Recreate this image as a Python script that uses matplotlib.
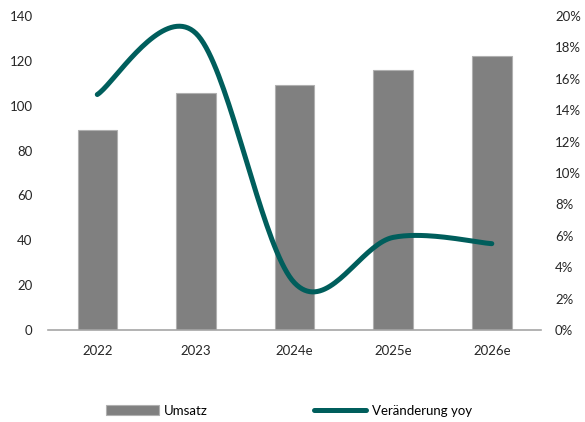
import numpy as np
import matplotlib.pyplot as plt
from matplotlib.ticker import FuncFormatter

plt.rcParams['font.family'] = ['Lato', 'DejaVu Sans']

years = ['2022', '2023', '2024e', '2025e', '2026e']
umsatz = [89, 105.8, 109.2, 115.9, 122.2]
veraenderung = [0.150, 0.189, 0.030, 0.059, 0.055]

bar_color = '#808080'
line_color = '#005e5c'


def smooth(xs, ys, n=40):
    # Bezier smoothing through every point (like Excel's smoothed line)
    xs = np.asarray(xs, float)
    ys = np.asarray(ys, float)
    px = np.concatenate([[xs[0]], xs, [xs[-1]]])
    py = np.concatenate([[ys[0]], ys, [ys[-1]]])
    out_x, out_y = [], []
    t = np.linspace(0, 1, n)
    for i in range(1, len(xs)):
        x0, x3 = px[i], px[i + 1]
        y0, y3 = py[i], py[i + 1]
        x1 = x0 + (px[i + 1] - px[i - 1]) / 6
        y1 = y0 + (py[i + 1] - py[i - 1]) / 6
        x2 = x3 - (px[i + 2] - px[i]) / 6
        y2 = y3 - (py[i + 2] - py[i]) / 6
        bx = (1 - t)**3 * x0 + 3 * (1 - t)**2 * t * x1 + 3 * (1 - t) * t**2 * x2 + t**3 * x3
        by = (1 - t)**3 * y0 + 3 * (1 - t)**2 * t * y1 + 3 * (1 - t) * t**2 * y2 + t**3 * y3
        out_x.extend(bx)
        out_y.extend(by)
    return out_x, out_y


fig = plt.figure(figsize=(5.85, 4.22), dpi=100)
ax = fig.add_axes([0.082, 0.218, 0.843, 0.744])
x = np.arange(len(years))

ax.bar(x, umsatz, width=0.4, color=bar_color, edgecolor='#b0b0b0', linewidth=0.8, label='Umsatz')
ax.set_xlim(-0.5, len(years) - 0.5)
ax.set_ylim(0, 140)
ax.set_yticks(range(0, 141, 20))
ax.set_xticks(x)
ax.set_xticklabels(years)
for s in ['top', 'right', 'left']:
    ax.spines[s].set_visible(False)
ax.spines['bottom'].set_color('#a6a6a6')
ax.spines['bottom'].set_linewidth(1.2)
ax.tick_params(axis='y', length=0, pad=11, labelsize=9.5, labelcolor='#262626')
ax.tick_params(axis='x', length=0, pad=11, labelsize=9.5, labelcolor='#262626')

ax2 = ax.twinx()
sx, sy = smooth(x, veraenderung)
ax2.plot(sx, sy, color=line_color, linewidth=3.6, solid_capstyle='round', label='Veränderung yoy')
ax2.set_ylim(0, 0.20)
ax2.set_yticks(np.arange(0, 0.201, 0.02))
ax2.yaxis.set_major_formatter(FuncFormatter(lambda v, p: f'{v * 100:.0f}%'))
for s in ['top', 'right', 'left', 'bottom']:
    ax2.spines[s].set_visible(False)
ax2.tick_params(axis='y', length=0, pad=10, labelsize=9.5, labelcolor='#262626')

h1, l1 = ax.get_legend_handles_labels()
h2, l2 = ax2.get_legend_handles_labels()
fig.legend(h1 + h2, l1 + l2, loc='center', bbox_to_anchor=(0.494, 0.027), ncol=2,
           frameon=False, fontsize=9.5, handlelength=4.0, handleheight=0.7,
           columnspacing=8.0, handletextpad=0.4)

fig.savefig('out.png', dpi=100)
